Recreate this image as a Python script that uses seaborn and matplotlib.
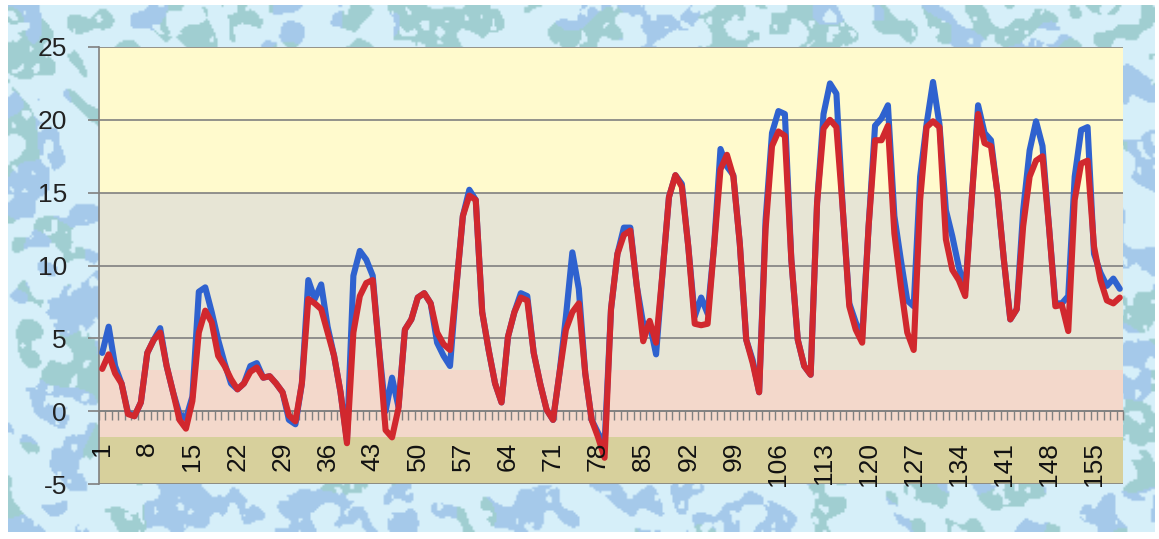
import numpy as np
import pandas as pd
import matplotlib
matplotlib.use("Agg")
import matplotlib.pyplot as plt
import seaborn as sns

# Daily readings for two series (days 1..159)
blue_vals = [
    4.0, 5.8, 3.1, 1.9, -0.1, -0.35, 0.6, 4.0, 4.9, 5.7,
    3.1, 1.3, -0.2, -0.5, 1.0, 8.2, 8.5, 6.8, 4.9, 3.3,
    1.9, 1.5, 1.9, 3.1, 3.3, 2.3, 2.4, 1.9, 1.3, -0.6,
    -0.9, 1.9, 9.0, 7.7, 8.7, 5.8, 3.8, 1.3, -2.0, 9.3,
    11.0, 10.4, 9.3, 4.2, 0.0, 2.3, 0.3, 5.6, 6.3, 7.8,
    8.1, 7.4, 4.7, 3.8, 3.1, 8.6, 13.4, 15.2, 14.5, 6.8,
    4.2, 1.9, 0.6, 5.1, 6.8, 8.1, 7.9, 4.0, 1.9, 0.1,
    -0.6, 2.6, 6.5, 10.9, 8.4, 2.6, -0.6, -1.5, -2.3, 7.0,
    10.8, 12.6, 12.6, 8.6, 6.0, 6.0, 3.9, 9.5, 14.7, 16.2,
    15.6, 11.3, 6.5, 7.8, 6.7, 11.3, 18.0, 16.8, 16.2, 11.5,
    4.9, 3.5, 1.3, 13.1, 19.1, 20.6, 20.4, 10.4, 4.9, 3.1,
    2.5, 14.3, 20.4, 22.5, 21.8, 13.8, 7.4, 6.1, 5.1, 12.7,
    19.6, 20.1, 21.0, 13.4, 10.4, 7.6, 7.2, 16.1, 19.7, 22.6,
    19.7, 13.8, 12.0, 9.9, 8.3, 14.5, 21.0, 19.1, 18.6, 15.0,
    10.4, 6.3, 7.0, 13.8, 17.9, 19.9, 18.2, 12.7, 7.4, 7.4,
    7.9, 16.1, 19.3, 19.5, 10.8, 9.5, 8.6, 9.1, 8.4,
]

red_vals = [
    2.9, 3.9, 2.6, 1.9, -0.2, -0.35, 0.6, 4.0, 4.9, 5.4,
    3.1, 1.3, -0.6, -1.2, 0.7, 5.4, 6.9, 6.1, 3.8, 3.1,
    2.2, 1.5, 1.9, 2.7, 3.0, 2.3, 2.4, 1.9, 1.3, -0.3,
    -0.7, 1.9, 7.7, 7.4, 7.0, 5.4, 3.8, 1.3, -2.2, 5.4,
    7.9, 8.8, 9.0, 4.2, -1.3, -1.8, 0.2, 5.6, 6.3, 7.8,
    8.1, 7.4, 5.4, 4.6, 4.2, 8.6, 13.4, 14.8, 14.5, 6.8,
    4.2, 1.9, 0.6, 5.1, 6.8, 7.8, 7.6, 4.0, 1.9, 0.1,
    -0.6, 2.6, 5.6, 6.8, 7.4, 2.6, -0.6, -1.8, -3.2, 7.0,
    10.8, 12.1, 12.4, 8.6, 4.8, 6.2, 4.7, 9.5, 14.7, 16.2,
    15.4, 11.3, 6.0, 5.9, 6.0, 11.3, 16.6, 17.6, 16.1, 11.5,
    4.9, 3.3, 1.3, 12.5, 18.2, 19.2, 18.9, 10.4, 4.9, 3.1,
    2.5, 14.3, 19.4, 20.0, 19.5, 13.8, 7.2, 5.6, 4.7, 12.7,
    18.6, 18.6, 19.6, 12.2, 8.6, 5.4, 4.2, 14.5, 19.5, 19.9,
    19.5, 11.8, 9.7, 9.0, 7.9, 14.5, 20.4, 18.4, 18.2, 15.0,
    10.4, 6.3, 7.0, 12.7, 16.1, 17.2, 17.5, 12.7, 7.2, 7.3,
    5.5, 14.5, 17.0, 17.2, 11.3, 9.0, 7.6, 7.4, 7.8,
]

days = list(range(1, len(blue_vals) + 1))
label_days = list(range(1, 160, 7))
y_ticks = [-5, 0, 5, 10, 15, 20, 25]

# Background zones of the plot area: (low, high, colour)
zones = [
    (15, 25, "#fffacd"),
    (2.8, 15, "#e7e5d5"),
    (-1.8, 2.8, "#f3d8cb"),
    (-5, -1.8, "#d7d09c"),
]

df = pd.DataFrame({"day": days, "blue": blue_vals, "red": red_vals})

sns.set_theme(style="white")
plt.rcParams["font.family"] = ["Liberation Sans", "DejaVu Sans"]

W, H = 1159, 539
fig = plt.figure(figsize=(W / 100, H / 100), dpi=100)
fig.patch.set_facecolor("white")


def wave_field(rng, shape, k_std, n=80):
    ny, nx = shape
    yy, xx = np.mgrid[0:ny, 0:nx]
    f = np.zeros(shape)
    for _ in range(n):
        kx, ky = rng.normal(0, k_std, 2)
        f += np.cos(kx * xx + ky * yy + rng.uniform(0, 2 * np.pi))
    return f / np.sqrt(n / 2)


# Mottled light-blue backdrop
rng = np.random.default_rng(11)
shape = (270, 580)
f_blob = wave_field(rng, shape, 0.2)
f_tint = wave_field(rng, shape, 0.08)
f_spot = wave_field(rng, shape, 0.45)
base = np.array([0.84, 0.94, 0.98])
blob_b = np.array([0.65, 0.79, 0.92])
blob_t = np.array([0.63, 0.81, 0.82])
tex = np.ones(shape + (3,)) * base
blobs = (f_blob > 0.15) & (f_spot < 1.3)
tex[blobs & (f_tint > 0)] = blob_b
tex[blobs & (f_tint <= 0)] = blob_t
bg = fig.add_axes([0, 0, 1, 1], zorder=-10)
bg.imshow(tex, extent=[8, 1155, 532, 5], aspect="auto", interpolation="bilinear")
bg.set_xlim(0, W)
bg.set_ylim(H, 0)
bg.axis("off")

ax = fig.add_axes([99 / W, 55 / H, 1024 / W, 437 / H])
for lo, hi, col in zones:
    ax.axhspan(lo, hi, color=col, zorder=0, lw=0)

sns.lineplot(data=df, x="day", y="blue", ax=ax, color="#2f62cf", lw=4.4,
             zorder=3, solid_joinstyle="round", solid_capstyle="round")
sns.lineplot(data=df, x="day", y="red", ax=ax, color="#d1282e", lw=4.4,
             zorder=4, solid_joinstyle="round", solid_capstyle="round")

ax.set_xlim(0.5, len(days) + 0.5)
ax.set_ylim(-5, 25)
ax.set_xlabel("")
ax.set_ylabel("")

ax.set_yticks(y_ticks)
ax.set_yticklabels([str(v) for v in y_ticks], fontsize=19, color="#222222")
ax.yaxis.grid(True, color="#808080", lw=1.2, zorder=1)
ax.set_axisbelow(False)
ax.tick_params(axis="y", direction="out", length=8, width=1.2, color="#808080", pad=15, left=True)

# Category axis crossing at zero with tick marks between days
ax.spines["bottom"].set_position(("data", 0))
ax.spines["bottom"].set_color("#808080")
ax.spines["bottom"].set_linewidth(1.2)
ax.spines["left"].set_color("#808080")
ax.spines["left"].set_linewidth(1.2)
ax.spines["top"].set_visible(False)
ax.spines["right"].set_visible(False)
ax.set_xticks(np.arange(0.5, len(days) + 1, 1))
ax.tick_params(axis="x", direction="out", length=6.5, width=1, color="#808080",
               labelbottom=False, bottom=True)
for d in label_days:
    ax.text(d, -2.1, str(d), rotation=90, ha="center", va="top", fontsize=19,
            color="#111111", zorder=5)

fig.savefig("out.png", dpi=100)
